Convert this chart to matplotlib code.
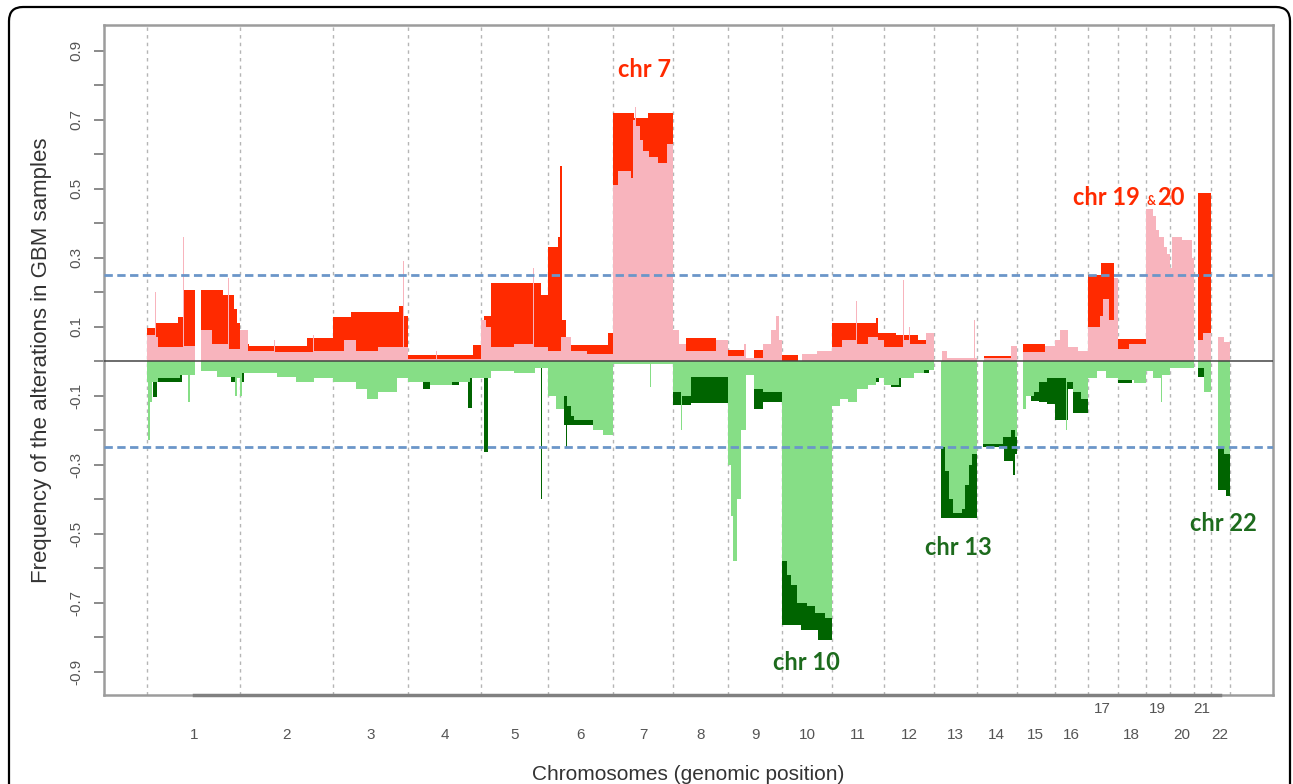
import matplotlib
matplotlib.use("Agg")
import matplotlib.pyplot as plt
import numpy as np
from matplotlib.patches import FancyBboxPatch

# chromosome sizes (Mb)
chrom_names = [str(i) for i in range(1, 23)]
chrom_len = [247, 247, 200, 194, 178, 173, 160, 146, 144, 133, 138,
             133, 114, 106, 101, 88, 80, 74, 64, 64, 45, 51]

# step profiles per chromosome: (fraction of chromosome, frequency)
gain_dark = [
    [(0, 0.095), (0.09, 0.11), (0.33, 0.128), (0.39, 0.206), (0.51, 0), (0.58, 0.206), (0.82, 0.19), (0.93, 0.15), (0.97, 0.11)],
    [(0, 0.05), (0.1, 0.045), (0.72, 0.066)],
    [(0, 0.128), (0.24, 0.142), (0.88, 0.16), (0.93, 0.13)],
    [(0, 0.017), (0.89, 0.046)],
    [(0, 0.11), (0.05, 0.13), (0.15, 0.226), (0.9, 0.19)],
    [(0, 0.33), (0.15, 0.36), (0.19, 0.565), (0.21, 0.12), (0.28, 0.065), (0.32, 0.046), (0.92, 0.08)],
    [(0, 0.72), (0.35, 0.705), (0.58, 0.72)],
    [(0, 0), (0.24, 0.066), (0.78, 0)],
    [(0, 0.032), (0.33, 0), (0.48, 0.032), (0.65, 0)],
    [(0, 0.017), (0.32, 0)],
    [(0, 0.11), (0.85, 0.125), (0.88, 0.08)],
    [(0, 0.08), (0.24, 0.075), (0.68, 0.06), (0.97, 0)],
    [(0, 0)],
    [(0, 0), (0.18, 0.016), (0.85, 0)],
    [(0, 0), (0.18, 0.05), (0.76, 0)],
    [(0, 0)],
    [(0, 0.25), (0.45, 0.285), (0.87, 0)],
    [(0, 0.065)],
    [(0, 0)],
    [(0, 0)],
    [(0, 0), (0.24, 0.487)],
    [(0, 0)],
]

gain_light = [
    [(0, 0.075), (0.08, 0.2), (0.095, 0.07), (0.12, 0.04), (0.38, 0.36), (0.395, 0.045), (0.51, 0), (0.58, 0.09), (0.7, 0.05), (0.87, 0.24), (0.885, 0.035)],
    [(0, 0.09), (0.08, 0.03), (0.36, 0.06), (0.375, 0.025), (0.78, 0.075), (0.795, 0.03)],
    [(0, 0.03), (0.15, 0.06), (0.3, 0.03), (0.6, 0.04), (0.93, 0.29), (0.945, 0.04)],
    [(0, 0.005), (0.38, 0.03), (0.4, 0.005)],
    [(0, 0.12), (0.08, 0.1), (0.15, 0.04), (0.5, 0.05), (0.78, 0.27), (0.795, 0.04)],
    [(0, 0.03), (0.2, 0.07), (0.35, 0.03), (0.6, 0.02)],
    [(0, 0.51), (0.08, 0.55), (0.3, 0.53), (0.33, 0.70), (0.36, 0.735), (0.38, 0.68), (0.45, 0.64), (0.5, 0.61), (0.6, 0.59), (0.75, 0.575), (0.9, 0.63)],
    [(0, 0.09), (0.1, 0.05), (0.24, 0.03), (0.78, 0.06)],
    [(0, 0.015), (0.3, 0.05), (0.34, 0.01), (0.65, 0.05), (0.8, 0.09), (0.88, 0.13), (0.95, 0.06)],
    [(0, 0.0), (0.4, 0.02), (0.7, 0.03)],
    [(0, 0.04), (0.2, 0.06), (0.47, 0.175), (0.49, 0.05), (0.7, 0.07), (0.88, 0.06)],
    [(0, 0.04), (0.39, 0.235), (0.41, 0.06), (0.5, 0.1), (0.52, 0.05), (0.85, 0.08)],
    [(0, 0), (0.2, 0.03), (0.3, 0.01), (0.93, 0.12), (0.95, 0.01)],
    [(0, 0), (0.18, 0.008), (0.85, 0.045)],
    [(0, 0), (0.18, 0.025), (0.76, 0.045)],
    [(0, 0.06), (0.15, 0.09), (0.4, 0.04), (0.7, 0.03)],
    [(0, 0.1), (0.4, 0.13), (0.5, 0.18), (0.7, 0.12), (0.88, 0.24)],
    [(0, 0.035), (0.4, 0.05)],
    [(0, 0.44), (0.3, 0.42), (0.42, 0.38), (0.55, 0.36), (0.75, 0.33), (0.9, 0.31)],
    [(0, 0.27), (0.12, 0.36), (0.5, 0.35), (0.95, 0.3)],
    [(0, 0), (0.24, 0.06), (0.55, 0.08)],
    [(0, 0), (0.37, 0.07), (0.7, 0.055)],
]

loss_dark = [
    [(0, -0.02), (0.06, -0.105), (0.1, -0.06), (0.37, -0.035), (0.51, 0), (0.58, -0.02), (0.9, -0.06), (0.97, -0.03)],
    [(0, -0.06), (0.04, -0.025), (0.5, -0.03), (0.6, -0.045), (0.68, -0.035), (0.95, -0.04)],
    [(0, -0.05), (0.88, -0.045), (0.95, -0.03)],
    [(0, -0.04), (0.08, -0.06), (0.2, -0.08), (0.3, -0.05), (0.42, -0.07), (0.7, -0.04), (0.82, -0.136), (0.87, -0.04)],
    [(0, -0.04), (0.05, -0.265), (0.11, -0.02), (0.89, -0.40), (0.905, -0.02)],
    [(0, -0.05), (0.25, -0.185), (0.28, -0.25), (0.3, -0.185), (0.69, -0.05)],
    [(0, 0)],
    [(0, -0.128), (0.33, -0.122)],
    [(0, -0.02), (0.48, -0.14), (0.65, -0.12)],
    [(0, -0.765), (0.38, -0.78), (0.72, -0.81)],
    [(0, -0.03), (0.8, -0.06), (0.9, -0.03)],
    [(0, -0.03), (0.14, -0.075), (0.34, -0.02), (0.8, -0.035), (0.9, -0.02)],
    [(0, 0), (0.16, -0.455)],
    [(0, 0), (0.15, -0.25), (0.68, -0.29), (0.9, -0.33), (0.96, -0.27)],
    [(0, 0), (0.18, -0.06), (0.37, -0.115), (0.6, -0.12), (0.8, -0.125)],
    [(0, -0.17), (0.4, -0.08), (0.55, -0.15)],
    [(0, -0.01)],
    [(0, -0.065), (0.5, -0.04)],
    [(0, 0)],
    [(0, 0)],
    [(0, 0), (0.24, -0.045)],
    [(0, 0), (0.37, -0.375), (0.8, -0.39)],
]

loss_light = [
    [(0, -0.06), (0.01, -0.23), (0.03, -0.12), (0.05, -0.06), (0.12, -0.05), (0.35, -0.04), (0.44, -0.12), (0.455, -0.04), (0.51, 0), (0.58, -0.03), (0.75, -0.045), (0.95, -0.1), (0.965, -0.05)],
    [(0, -0.1), (0.02, -0.035), (0.4, -0.045), (0.6, -0.06), (0.8, -0.05)],
    [(0, -0.06), (0.3, -0.08), (0.45, -0.11), (0.6, -0.09), (0.85, -0.05)],
    [(0, -0.06), (0.3, -0.07), (0.6, -0.06), (0.85, -0.05)],
    [(0, -0.05), (0.15, -0.03), (0.5, -0.035), (0.8, -0.02)],
    [(0, -0.1), (0.12, -0.14), (0.25, -0.1), (0.3, -0.13), (0.35, -0.16), (0.4, -0.17), (0.69, -0.2), (0.85, -0.215)],
    [(0, -0.01), (0.62, -0.075), (0.64, -0.01)],
    [(0, -0.09), (0.14, -0.2), (0.16, -0.1), (0.33, -0.047)],
    [(0, -0.3), (0.05, -0.45), (0.1, -0.58), (0.17, -0.4), (0.24, -0.2), (0.33, -0.04), (0.48, -0.08), (0.65, -0.09)],
    [(0, -0.58), (0.1, -0.62), (0.18, -0.65), (0.3, -0.7), (0.5, -0.71), (0.65, -0.73), (0.85, -0.745)],
    [(0, -0.13), (0.15, -0.11), (0.3, -0.12), (0.48, -0.08), (0.7, -0.07), (0.85, -0.05)],
    [(0, -0.07), (0.3, -0.05), (0.6, -0.035), (0.8, -0.025)],
    [(0, 0), (0.16, -0.25), (0.25, -0.32), (0.35, -0.40), (0.45, -0.44), (0.65, -0.43), (0.72, -0.36), (0.82, -0.3), (0.9, -0.27)],
    [(0, 0), (0.15, -0.24), (0.65, -0.22), (0.85, -0.2), (0.95, -0.22)],
    [(0, 0), (0.18, -0.14), (0.25, -0.1), (0.45, -0.09), (0.6, -0.06), (0.8, -0.05)],
    [(0, -0.05), (0.35, -0.2), (0.38, -0.06), (0.55, -0.09), (0.8, -0.11)],
    [(0, -0.05), (0.3, -0.03), (0.6, -0.05)],
    [(0, -0.055), (0.6, -0.065)],
    [(0, -0.03), (0.3, -0.05), (0.65, -0.12), (0.68, -0.04)],
    [(0, -0.02)],
    [(0, 0), (0.24, -0.02), (0.59, -0.09)],
    [(0, 0), (0.37, -0.25), (0.7, -0.27)],
]

threshold = 0.25

starts = np.concatenate([[0], np.cumsum(chrom_len)[:-1]])
ends = np.cumsum(chrom_len)
mids = starts + np.array(chrom_len) / 2.0


def to_steps(layer):
    xs, ys = [], []
    for s, L, segs in zip(starts, chrom_len, layer):
        for f, v in segs:
            xs.append(s + f * L)
            ys.append(v)
        xs.append(s + L)
        ys.append(0.0)
    return np.array(xs), np.array(ys)


RED = "#ff2a00"
PINK = "#f8b4bd"
DKGREEN = "#006400"
LTGREEN = "#86de86"

fig = plt.figure(figsize=(12.93, 7.84), dpi=100)
ax = fig.add_axes([104 / 1293, 1 - 695 / 784, (1273 - 104) / 1293, (695 - 25) / 784])

# chromosome boundaries
for b in np.concatenate([[0], ends]):
    ax.axvline(b, color="#b5b5b5", lw=1, ls=(0, (2.5, 3)), zorder=0)

for layer, col in [(gain_dark, RED), (loss_dark, DKGREEN),
                   (gain_light, PINK), (loss_light, LTGREEN)]:
    x, y = to_steps(layer)
    ax.fill_between(x, 0, y, step="post", color=col, lw=0, zorder=2)

ax.axhline(0, color="#444444", lw=1.1, zorder=3)
for t in (threshold, -threshold):
    ax.axhline(t, color="#6b96c9", lw=2, ls=(0, (3, 1.6)), zorder=4)

total = ends[-1]
ax.set_xlim(-0.04 * total, 1.04 * total)
ax.set_ylim(-0.968, 0.974)

# y axis
major = np.round(np.arange(-0.9, 0.91, 0.2), 1)
minor = np.round(np.arange(-0.8, 0.81, 0.2), 1)
ax.set_yticks(major)
ax.set_yticklabels([f"{v:.1f}" for v in major], rotation=90, va="center",
                   family="Liberation Sans", fontsize=11, color="#555555")
ax.set_yticks(minor, minor=True)
ax.tick_params(axis="y", which="both", length=7, width=1.2, color="#777777", pad=8)

# x axis: chromosome labels, 17/19/21 on an upper row
upper = [16, 18, 20]
low_idx = [i for i in range(22) if i not in upper]
ax.set_xticks(mids[low_idx])
ax.set_xticklabels([chrom_names[i] for i in low_idx], family="Liberation Sans",
                   fontsize=11, color="#555555")
ax.set_xticks(mids[upper], minor=True)
ax.set_xticklabels([chrom_names[i] for i in upper], minor=True,
                   family="Liberation Sans", fontsize=11, color="#555555")
ax.tick_params(axis="x", which="major", length=0, pad=24)
ax.tick_params(axis="x", which="minor", length=0, pad=5)
ax.plot([mids[0], mids[-1]], [-0.968, -0.968], color="#808080", lw=2.5,
        clip_on=False, zorder=5)

for sp in ax.spines.values():
    sp.set_color("#9c9c9c")
    sp.set_linewidth(1.8)

ax.set_ylabel("Frequency of the alterations in GBM samples", family="Liberation Sans",
              fontsize=16, color="#333333", labelpad=12)
ax.set_xlabel("Chromosomes (genomic position)", family="Liberation Sans",
              fontsize=15, color="#333333", labelpad=16)

# annotations
ann = dict(fontsize=17, fontweight="bold", family="Lato")
ax.text(starts[6] + 0.52 * chrom_len[6], 0.846, "chr 7", color=RED,
        ha="center", va="center", **ann)
ax.text(starts[17] + 0.78 * chrom_len[17], 0.452, "chr 19", color=RED,
        ha="right", va="baseline", **ann)
ax.text(starts[18] + 0.22 * chrom_len[18], 0.452, "&", color=RED, ha="center",
        va="baseline", fontsize=9, fontweight="bold", family="Lato")
ax.text(starts[18] + 0.5 * chrom_len[18], 0.452, "20", color=RED,
        ha="left", va="baseline", **ann)
GTXT = "#1d6b1d"
ax.text(starts[9] + 0.48 * chrom_len[9], -0.875, "chr 10", color=GTXT,
        ha="center", va="center", **ann)
ax.text(starts[12] + 0.56 * chrom_len[12], -0.54, "chr 13", color=GTXT,
        ha="center", va="center", **ann)
ax.text(starts[21] + 0.68 * chrom_len[21], -0.472, "chr 22", color=GTXT,
        ha="center", va="center", **ann)

# rounded outer frame of the figure panel
frame = FancyBboxPatch((0.09, -0.3), 12.81, 7.77 + 0.3,
                       boxstyle="round,pad=0,rounding_size=0.14",
                       transform=fig.dpi_scale_trans, fill=False,
                       ec="black", lw=1.6)
fig.patches.append(frame)

fig.savefig("out.png", dpi=100)
